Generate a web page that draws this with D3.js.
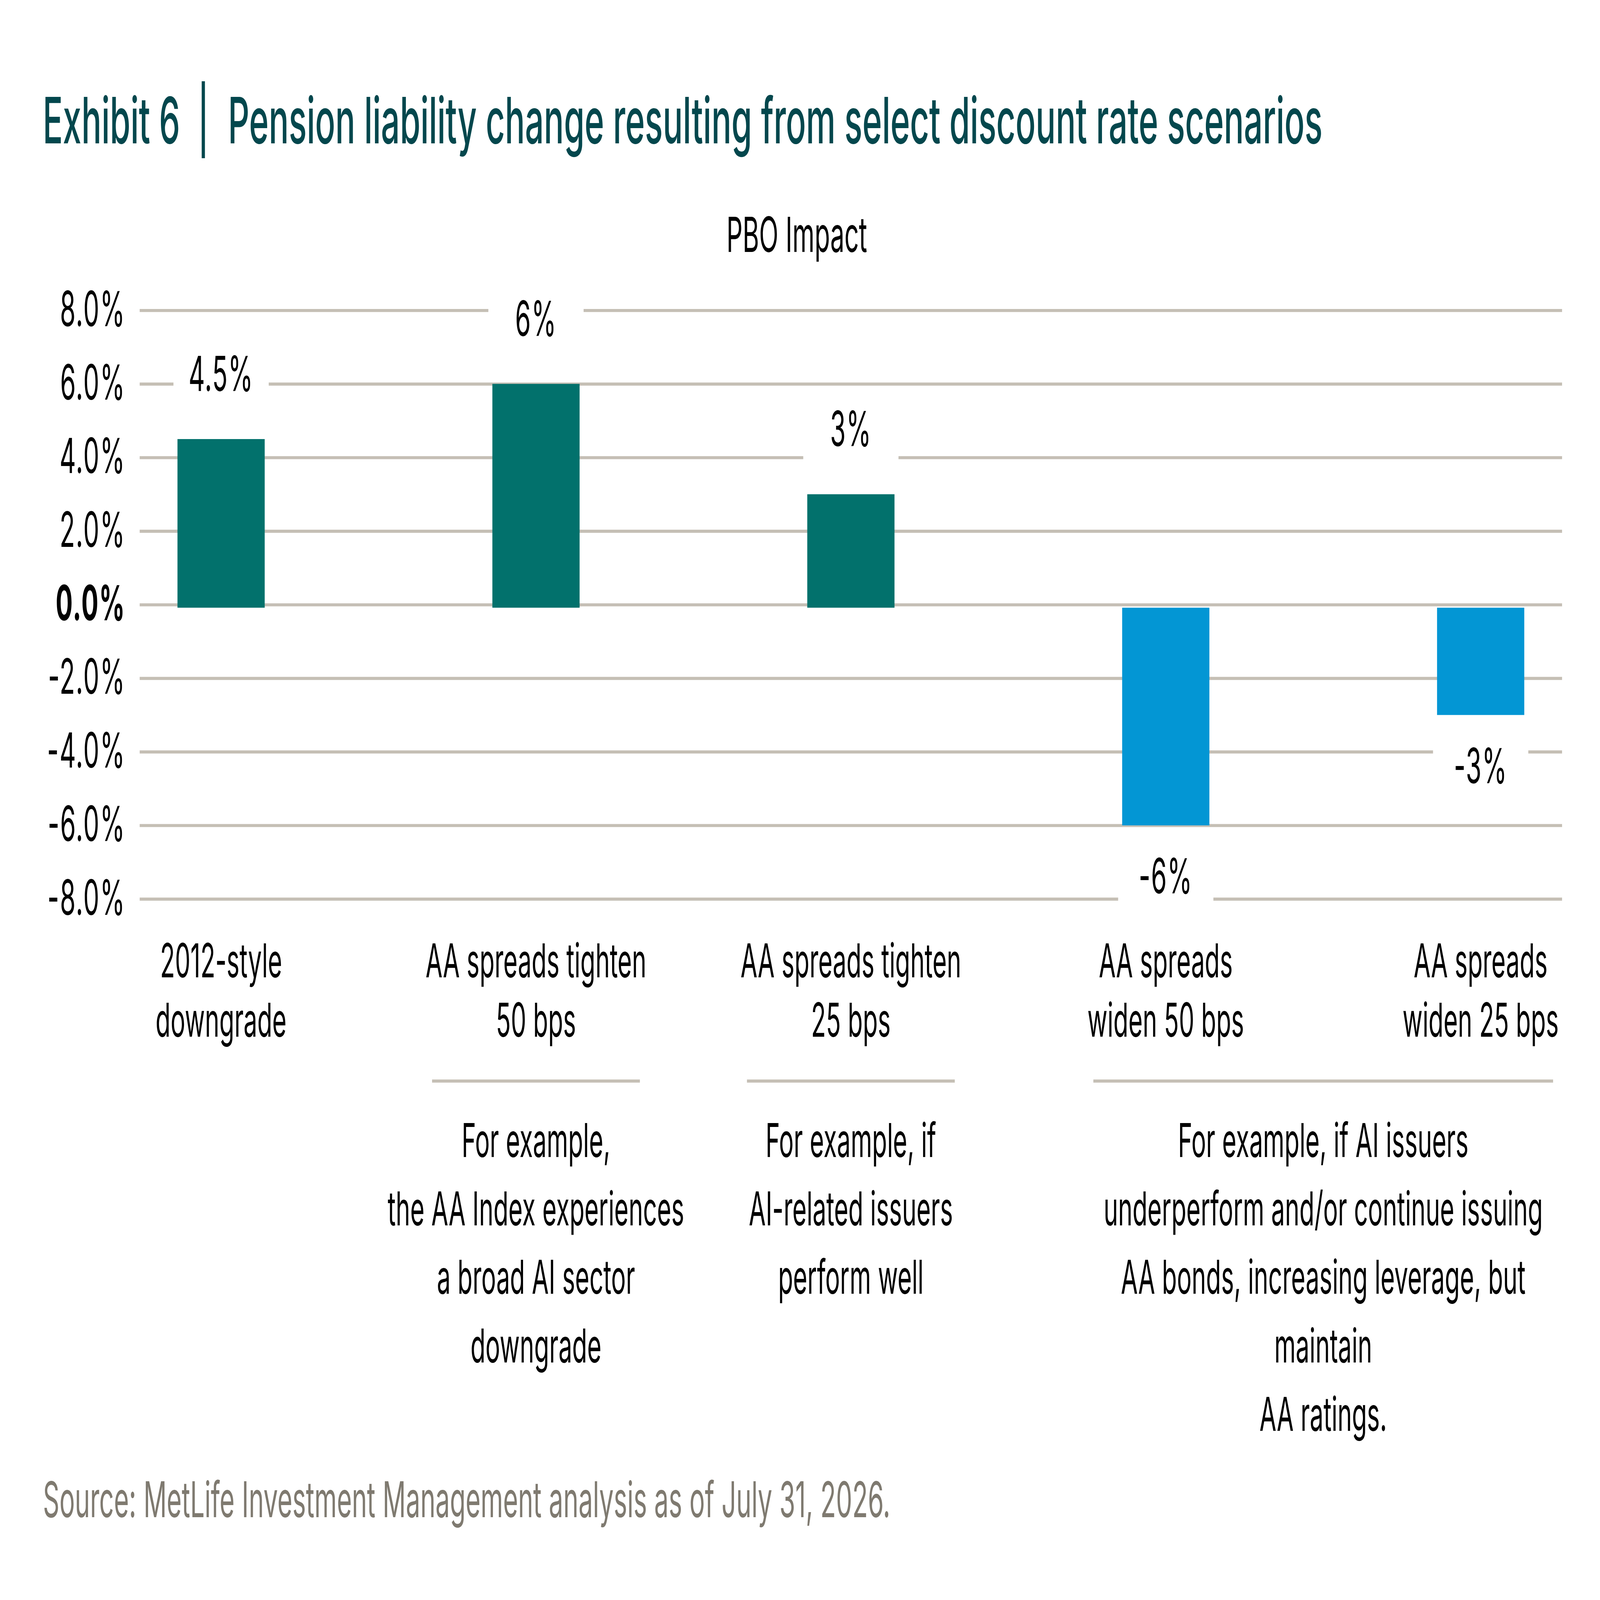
<!DOCTYPE html>
<html>
<head>
<meta charset="utf-8">
<script src="https://cdn.jsdelivr.net/npm/d3@7"></script>
<style>
  html, body { margin: 0; padding: 0; background: #fff; overflow: hidden; }
  svg { display: block; width: 100vw; height: 100vh; }
  text { font-family: Inter, "Noto Sans", sans-serif; }
</style>
</head>
<body>
<div id="chart"></div>
<script>
// chart data
const categories = ["2012-style downgrade", "AA spreads tighten 50 bps", "AA spreads tighten 25 bps",
                    "AA spreads widen 50 bps", "AA spreads widen 25 bps"];
const categoryLines = [
  ["2012-style", "downgrade"],
  ["AA spreads tighten", "50 bps"],
  ["AA spreads tighten", "25 bps"],
  ["AA spreads", "widen 50 bps"],
  ["AA spreads", "widen 25 bps"]
];
const values = [4.5, 6, 3, -6, -3];
const valueLabels = ["4.5%", "6%", "3%", "-6%", "-3%"];
const yTicks = [-8, -6, -4, -2, 0, 2, 4, 6, 8];
const notes = [
  { from: 1, to: 1, lines: ["For example,", "the AA Index experiences", "a broad AI sector", "downgrade"] },
  { from: 2, to: 2, lines: ["For example, if", "AI-related issuers", "perform well"] },
  { from: 3, to: 4, lines: ["For example, if AI issuers", "underperform and/or continue issuing",
                            "AA bonds, increasing leverage, but", "maintain", "AA ratings."] }
];
const titleLead = "Exhibit 6";
const titleMain = "Pension liability change resulting from select discount rate scenarios";
const subtitle = "PBO Impact";
const source = "Source: MetLife Investment Management analysis as of July 31, 2026.";

const W = 7972, H = 4156;
const plot = { left: 696, right: 7783, top: 806, bottom: 2335 };
const colorUp = "#02716c", colorDown = "#0396d4", gridColor = "#c5bfb5";
const titleColor = "#03474d";

// drawn in a 7972x4156 frame, stretched to whatever window it gets
const svg = d3.select("#chart").append("svg")
  .attr("viewBox", `0 0 ${W} ${H}`)
  .attr("preserveAspectRatio", "none");

svg.append("rect").attr("width", W).attr("height", H).attr("fill", "#fff");

// Title
svg.append("text")
  .attr("x", 213).attr("y", 372)
  .attr("fill", titleColor)
  .style("font-size", "166px").style("font-weight", 500)
  .text(titleLead);

svg.append("line")
  .attr("x1", 1013).attr("x2", 1013)
  .attr("y1", 211).attr("y2", 411)
  .attr("stroke", titleColor).attr("stroke-width", 16);

svg.append("text")
  .attr("x", 1136).attr("y", 372)
  .attr("fill", titleColor)
  .style("font-size", "166px").style("font-weight", 500)
  .text(titleMain);

svg.append("text")
  .attr("x", 3970).attr("y", 654)
  .attr("text-anchor", "middle")
  .style("font-size", "126px")
  .text(subtitle);

// Scales
const y = d3.scaleLinear().domain([-8, 8]).range([plot.bottom, plot.top]);
const x = d3.scaleBand()
  .domain(categories)
  .range([plot.left, plot.right])
  .paddingInner(0.723)
  .paddingOuter(0.12);

const fmt = d3.formatLocale({ decimal: ".", thousands: ",", grouping: [3], currency: ["", ""], minus: "-" })
  .format(".1f");

// Gridlines
const grid = svg.append("g")
  .attr("transform", `translate(${plot.left},0)`)
  .call(d3.axisLeft(y).tickValues(yTicks).tickSize(-(plot.right - plot.left)).tickFormat(""));
grid.select(".domain").remove();
grid.selectAll(".tick line").attr("stroke", gridColor).attr("stroke-width", 8);

// Y axis labels
const yAxis = svg.append("g")
  .attr("transform", `translate(${plot.left},0)`)
  .call(d3.axisLeft(y).tickValues(yTicks).tickSize(0).tickPadding(70).tickFormat(d => fmt(d) + "%"));
yAxis.select(".domain").remove();
yAxis.selectAll(".tick text")
  .attr("fill", "#000")
  .style("font-family", "Inter, sans-serif")
  .style("font-size", "126px")
  .style("letter-spacing", "4px")
  .style("font-weight", d => d === 0 ? 700 : 400);

// Bars
const zeroY = y(0) + 8;
svg.selectAll(".bar")
  .data(values)
  .enter().append("rect")
  .attr("class", "bar")
  .attr("x", (d, i) => x(categories[i]))
  .attr("width", x.bandwidth())
  .attr("y", d => d >= 0 ? y(d) : zeroY)
  .attr("height", d => d >= 0 ? zeroY - y(d) : y(d) - zeroY)
  .attr("fill", d => d >= 0 ? colorUp : colorDown);

// Value labels with white backing
const labelBase = (d) => d >= 0 ? y(d) - 125 : y(d) + 177;
const labels = svg.selectAll(".vlabel")
  .data(values)
  .enter().append("g")
  .attr("class", "vlabel")
  .attr("transform", (d, i) => `translate(${x(categories[i]) + x.bandwidth() / 2},${labelBase(d)})`);

labels.append("rect")
  .attr("x", -x.bandwidth() / 2 - 20)
  .attr("width", x.bandwidth() + 40)
  .attr("y", -145)
  .attr("height", 200)
  .attr("fill", "#fff");

labels.append("text")
  .attr("text-anchor", "middle")
  .style("font-size", "126px")
  .style("letter-spacing", "3px")
  .text((d, i) => valueLabels[i]);

// Category labels
const catText = svg.selectAll(".cat")
  .data(categoryLines)
  .enter().append("text")
  .attr("class", "cat")
  .attr("text-anchor", "middle")
  .style("font-size", "122px");

catText.selectAll("tspan")
  .data((d, i) => d.map(line => ({ line, i })))
  .enter().append("tspan")
  .attr("x", d => x(categories[d.i]) + x.bandwidth() / 2)
  .attr("y", (d, j) => 2539 + j * 154)
  .text(d => d.line);

// Notes under the categories
const center = i => x(categories[i]) + x.bandwidth() / 2;
const noteG = svg.selectAll(".note")
  .data(notes)
  .enter().append("g")
  .attr("class", "note");

noteG.append("line")
  .attr("x1", d => (center(d.from) + center(d.to)) / 2 - x.step() * (0.33 + 0.4 * (d.to - d.from)))
  .attr("x2", d => (center(d.from) + center(d.to)) / 2 + x.step() * (0.33 + 0.4 * (d.to - d.from)))
  .attr("y1", 2808).attr("y2", 2808)
  .attr("stroke", gridColor).attr("stroke-width", 8);

noteG.append("text")
  .attr("text-anchor", "middle")
  .style("font-size", "122px")
  .selectAll("tspan")
  .data(d => d.lines.map(line => ({ line, cx: (center(d.from) + center(d.to)) / 2 })))
  .enter().append("tspan")
  .attr("x", d => d.cx)
  .attr("y", (d, j) => 3005 + j * 178)
  .text(d => d.line);

// Source
svg.append("text")
  .attr("x", 214).attr("y", 3941)
  .attr("fill", "#7f7a70")
  .style("font-size", "128px")
  .text(source);
</script>
</body>
</html>
